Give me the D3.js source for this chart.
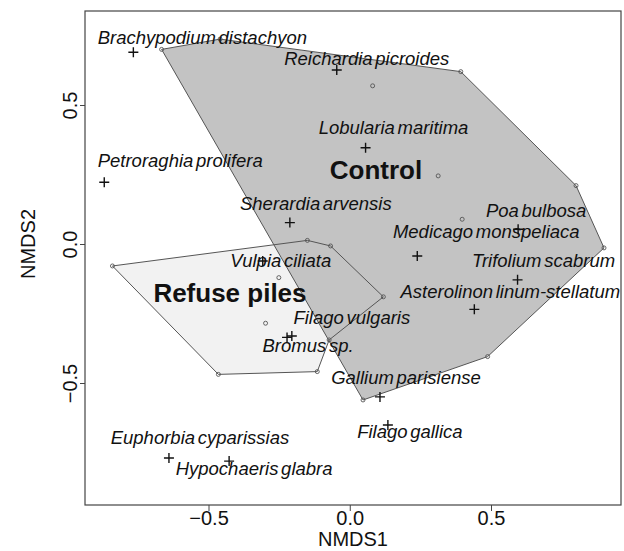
<!DOCTYPE html>
<html>
<head>
<meta charset="utf-8">
<script src="https://cdn.jsdelivr.net/npm/d3@7"></script>
<style>
  html, body { margin: 0; padding: 0; background: #fff; }
  svg { display: block; }
</style>
</head>
<body>
<svg id="chart" width="624" height="551"></svg>
<script>
// ---------------- DATA ----------------
const speciesNames = [
  "Brachypodium distachyon", "Reichardia picroides", "Lobularia maritima",
  "Petroraghia prolifera", "Sherardia arvensis", "Poa bulbosa",
  "Medicago monspeliaca", "Trifolium scabrum", "Asterolinon linum-stellatum",
  "Vulpia ciliata", "Filago vulgaris", "Bromus sp.", "Gallium parisiense",
  "Filago gallica", "Euphorbia cyparissias", "Hypochaeris glabra"
];
const speciesNMDS1 = [-0.766, -0.046, 0.056, -0.869, -0.212, 0.596, 0.239, 0.594, 0.441,
  -0.308, -0.205, -0.222, 0.107, 0.135, -0.640, -0.427];
const speciesNMDS2 = [0.690, 0.626, 0.346, 0.222, 0.077, 0.053, -0.043, -0.129, -0.235,
  -0.061, -0.331, -0.336, -0.550, -0.651, -0.770, -0.781];

// sites: Control (hull order first, then interior)
const controlNMDS1 = [-0.666, -0.459, 0.393, 0.801, 0.900, 0.488, 0.047, 0.081, 0.313, 0.398];
const controlNMDS2 = [0.700, 0.737, 0.620, 0.210, -0.014, -0.405, -0.561, 0.569, 0.245, 0.089];
const controlHull = [0, 1, 2, 3, 4, 5, 6];
// sites: Refuse piles
const refuseNMDS1 = [-0.840, -0.150, -0.068, 0.119, -0.073, -0.115, -0.465, -0.251, -0.298];
const refuseNMDS2 = [-0.079, 0.013, -0.007, -0.190, -0.345, -0.459, -0.469, -0.121, -0.285];
const refuseHull = [0, 1, 2, 3, 4, 5, 6];

const groupNames = ["Control", "Refuse piles"];
const groupLabelNMDS1 = [0.093, -0.424];
const groupLabelNMDS2 = [0.266, -0.176];

const xTicks = [-0.5, 0.0, 0.5];
const yTicks = [-0.5, 0.0, 0.5];
const xTitle = "NMDS1";
const yTitle = "NMDS2";

// ---------------- LAYOUT (pixel offsets of labels from their points) ----------------
const labelDX = [69, 30, 28, 76, 26, 18, 69, 26, 36, 18, 60, 21, 26, 22, 31, 25];
const labelDY = [-15, -11, -20, -22, -19, -19, -24, -19, -18, 0, -19, 8, -19, 7, -21, 7];

// ---------------- CHART ----------------
const svg = d3.select("#chart");
const box = { left: 85, top: 11, right: 621, bottom: 505 };

const x = d3.scaleLinear().domain([-0.5, 0.5]).range([208.5, 491]);
const y = d3.scaleLinear().domain([-0.5, 0.5]).range([383, 105]);

const font = "'Liberation Sans', Arial, Helvetica, sans-serif";

// Hull polygons
const refusePts = refuseHull.map(i => [x(refuseNMDS1[i]), y(refuseNMDS2[i])]);
const controlPts = controlHull.map(i => [x(controlNMDS1[i]), y(controlNMDS2[i])]);
const line = d3.line().curve(d3.curveLinearClosed);

svg.append("path").attr("d", line(refusePts))
  .attr("fill", "#f2f2f2").attr("stroke", "none");
svg.append("path").attr("d", line(controlPts))
  .attr("fill", "#c3c3c3").attr("stroke", "none");
svg.append("path").attr("d", line(controlPts))
  .attr("fill", "none").attr("stroke", "#555").attr("stroke-width", 1);
svg.append("path").attr("d", line(refusePts))
  .attr("fill", "none").attr("stroke", "#555").attr("stroke-width", 1);

// Site points
const sites = controlNMDS1.map((v, i) => [v, controlNMDS2[i]])
  .concat(refuseNMDS1.map((v, i) => [v, refuseNMDS2[i]]));
svg.append("g").selectAll("circle").data(sites).join("circle")
  .attr("cx", d => x(d[0])).attr("cy", d => y(d[1])).attr("r", 2)
  .attr("fill", "none").attr("stroke", "#555").attr("stroke-width", 0.9);

// Species crosses
const crossG = svg.append("g");
speciesNames.forEach((n, i) => {
  const cx = x(speciesNMDS1[i]), cy = y(speciesNMDS2[i]);
  crossG.append("path")
    .attr("d", `M${cx - 5},${cy}H${cx + 5}M${cx},${cy - 5}V${cy + 5}`)
    .attr("stroke", "#111").attr("stroke-width", 1.4);
});

// Species labels
svg.append("g").selectAll("text").data(speciesNames).join("text")
  .attr("x", (d, i) => x(speciesNMDS1[i]) + labelDX[i])
  .attr("y", (d, i) => y(speciesNMDS2[i]) + labelDY[i])
  .attr("text-anchor", "middle").attr("dominant-baseline", "central")
  .attr("font-family", font).attr("font-style", "italic").attr("font-size", 18.5)
  .attr("word-spacing", -2.5).attr("fill", "#111")
  .text(d => d);

// Group labels
svg.append("g").selectAll("text").data(groupNames).join("text")
  .attr("x", (d, i) => x(groupLabelNMDS1[i]))
  .attr("y", (d, i) => y(groupLabelNMDS2[i]))
  .attr("text-anchor", "middle").attr("dominant-baseline", "central")
  .attr("font-family", font).attr("font-weight", "bold").attr("font-size", 26)
  .attr("fill", "#111").text(d => d);

// Frame
svg.append("rect")
  .attr("x", box.left).attr("y", box.top)
  .attr("width", box.right - box.left).attr("height", box.bottom - box.top)
  .attr("fill", "none").attr("stroke", "#444").attr("stroke-width", 1.2);

// X axis
const xAxis = svg.append("g").attr("transform", `translate(0,${box.bottom})`)
  .call(d3.axisBottom(x).tickValues(xTicks).tickSize(6).tickFormat(d3.format(".1f")));
xAxis.select(".domain").remove();
xAxis.selectAll("line").attr("stroke", "#444");
xAxis.selectAll("text").attr("font-family", font).attr("font-size", 20)
  .attr("fill", "#111").attr("y", 8).attr("dy", "0.6em");

// Y axis
const yAxis = svg.append("g").attr("transform", `translate(${box.left},0)`)
  .call(d3.axisLeft(y).tickValues(yTicks).tickSize(5).tickFormat(d3.format(".1f")));
yAxis.select(".domain").remove();
yAxis.selectAll("line").attr("stroke", "#444");
yAxis.selectAll("text").attr("font-family", font).attr("font-size", 20)
  .attr("fill", "#111")
  .attr("x", null).attr("dy", null)
  .attr("text-anchor", "middle")
  .attr("transform", "translate(-8,0) rotate(-90)")
  .attr("y", 0);

// Axis titles
svg.append("text").attr("x", 353).attr("y", 539)
  .attr("text-anchor", "middle").attr("dominant-baseline", "central")
  .attr("font-family", font).attr("font-size", 20).attr("fill", "#111").text(xTitle);
svg.append("text")
  .attr("transform", `translate(28,${y(0)}) rotate(-90)`)
  .attr("text-anchor", "middle").attr("dominant-baseline", "central")
  .attr("font-family", font).attr("font-size", 20).attr("fill", "#111").text(yTitle);
</script>
</body>
</html>
